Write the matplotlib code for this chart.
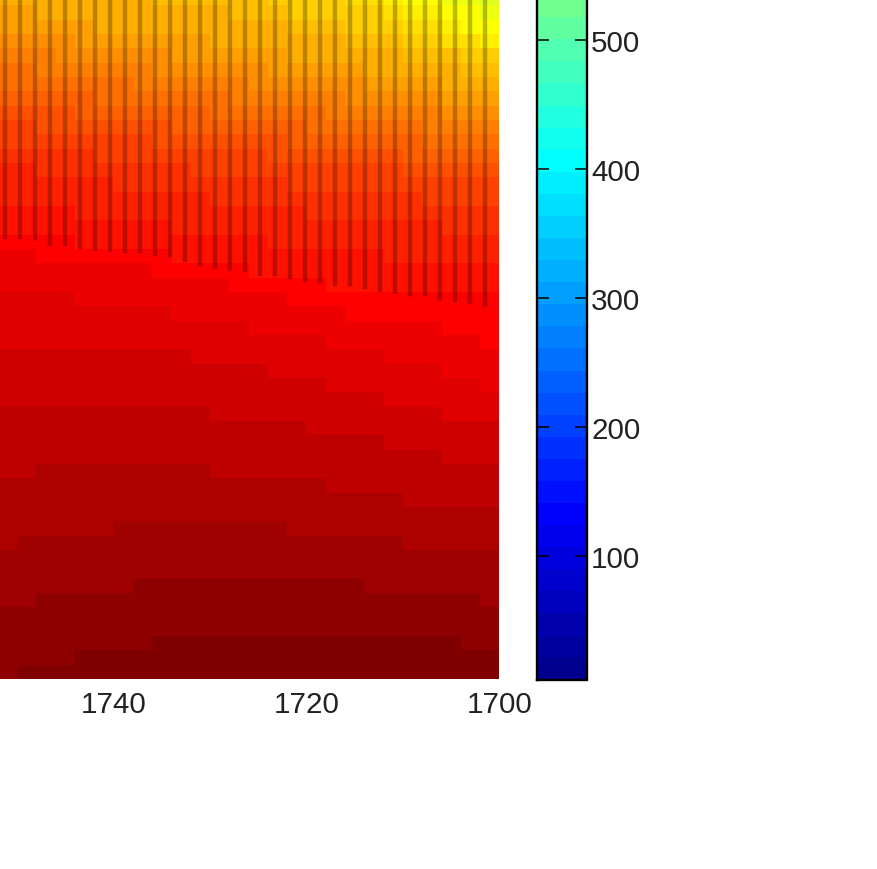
import numpy as np
import matplotlib
matplotlib.use("Agg")
import matplotlib.pyplot as plt
from matplotlib.colors import ListedColormap

plt.rcParams['font.family'] = ['Liberation Sans', 'DejaVu Sans']

# column edges (reversed axis), rows are just counted up from the bottom
x_edges = [1752, 1750, 1748, 1746, 1744, 1742, 1740, 1738, 1736, 1734, 1732, 1730, 1728,
           1726, 1724, 1722, 1720, 1718, 1716, 1714, 1712, 1710, 1708, 1706, 1704, 1702, 1700]
n_rows = 48
clim = [4.4, 1100.0]

# for each colour level: how many rows from the bottom stay at it or above, per column
tops_64 = [0, 1, 1, 1, 2, 2, 2, 2, 3, 3, 3, 3, 3, 3, 3, 3, 3, 3, 3, 3, 3, 3, 3, 3, 2, 2]
tops_63 = [5, 5, 6, 6, 6, 6, 6, 7, 7, 7, 7, 7, 7, 7, 7, 7, 7, 7, 7, 6, 6, 6, 6, 6, 6, 5]
tops_62 = [9, 10, 10, 10, 10, 10, 11, 11, 11, 11, 11, 11, 11, 11, 11, 10, 10, 10, 10, 10, 10, 9, 9, 9, 9, 9]
tops_61 = [14, 14, 15, 15, 15, 15, 15, 15, 15, 15, 15, 14, 14, 14, 14, 14, 14, 13, 13, 13, 13, 12, 12, 12, 12, 12]
tops_60 = [19, 19, 19, 19, 19, 19, 19, 19, 19, 19, 19, 18, 18, 18, 18, 18, 17, 17, 17, 17, 16, 16, 16, 15, 15, 15]
tops_59 = [23, 23, 23, 23, 23, 23, 23, 23, 23, 23, 22, 22, 22, 22, 21, 21, 21, 20, 20, 20, 19, 19, 19, 18, 18, 18]
tops_58 = [27, 27, 27, 27, 26, 26, 26, 26, 26, 25, 25, 25, 25, 24, 24, 24, 24, 23, 23, 23, 22, 22, 22, 21, 21, 20]
tops_57 = [30, 30, 29, 29, 29, 29, 29, 29, 28, 28, 28, 28, 27, 27, 27, 26, 26, 26, 25, 25, 25, 25, 25, 24, 24, 23]
tops_56 = [31, 31, 31, 31, 30, 30, 30, 30, 30, 29, 29, 29, 29, 28, 28, 28, 28, 27, 27, 27, 27, 27, 27, 27, 27, 27]
tops_55 = [33, 33, 33, 33, 32, 32, 32, 32, 32, 31, 31, 31, 31, 31, 30, 30, 30, 30, 30, 30, 29, 29, 29, 29, 29, 29]
tops_54 = [36, 36, 35, 35, 35, 35, 34, 34, 34, 34, 34, 33, 33, 33, 33, 33, 32, 32, 32, 32, 32, 32, 32, 31, 31, 31]
tops_53 = [37, 37, 37, 37, 37, 36, 36, 36, 36, 36, 35, 35, 35, 35, 35, 34, 34, 34, 34, 34, 34, 34, 33, 33, 33, 33]
tops_52 = [39, 39, 38, 38, 38, 38, 38, 38, 37, 37, 37, 37, 37, 37, 36, 36, 36, 36, 36, 36, 36, 35, 35, 35, 35, 35]
tops_51 = [40, 40, 40, 40, 39, 39, 39, 39, 39, 38, 38, 38, 38, 38, 38, 37, 37, 37, 37, 37, 37, 36, 36, 36, 36, 36]
tops_50 = [41, 41, 41, 41, 41, 40, 40, 40, 40, 40, 40, 39, 39, 39, 39, 39, 38, 38, 38, 38, 38, 38, 37, 37, 37, 37]
tops_49 = [43, 43, 42, 42, 42, 42, 42, 41, 41, 41, 41, 41, 40, 40, 40, 40, 40, 39, 39, 39, 39, 39, 38, 38, 38, 38]
tops_48 = [44, 44, 44, 43, 43, 43, 43, 43, 42, 42, 42, 42, 42, 41, 41, 41, 41, 41, 40, 40, 40, 40, 40, 39, 39, 39]
tops_47 = [45, 45, 45, 45, 44, 44, 44, 44, 44, 43, 43, 43, 43, 43, 42, 42, 42, 42, 42, 41, 41, 41, 41, 40, 40, 40]
tops_46 = [47, 47, 46, 46, 46, 45, 45, 45, 45, 45, 45, 44, 44, 44, 44, 43, 43, 43, 43, 42, 42, 42, 42, 41, 41, 41]
tops_45 = [49, 49, 49, 49, 49, 48, 48, 48, 47, 47, 47, 47, 46, 46, 46, 45, 45, 45, 44, 44, 44, 43, 43, 43, 42, 42]
tops_44 = [50, 50, 50, 50, 50, 50, 50, 50, 49, 49, 49, 48, 48, 48, 47, 46, 46, 46, 45, 45, 45, 44, 44, 44, 43, 43]
tops_43 = [49, 49, 49, 49, 49, 49, 49, 49, 49, 49, 49, 49, 49, 49, 49, 49, 48, 48, 47, 47, 46, 45, 45, 44, 44, 44]
tops_42 = [49, 49, 49, 49, 49, 49, 49, 49, 49, 49, 49, 49, 49, 49, 49, 49, 49, 49, 49, 48, 47, 46, 46, 45, 45, 44]
tops_41 = [49, 49, 49, 49, 49, 49, 49, 49, 49, 49, 49, 49, 49, 49, 49, 49, 49, 49, 49, 49, 49, 47, 47, 46, 45, 45]
tops_40 = [49, 49, 49, 49, 49, 49, 49, 49, 49, 49, 49, 49, 49, 49, 49, 49, 49, 49, 49, 49, 49, 49, 48, 47, 47, 46]
tops_39 = [49, 49, 49, 49, 49, 49, 49, 49, 49, 49, 49, 49, 49, 49, 49, 49, 49, 49, 49, 49, 49, 49, 49, 49, 48, 47]

all_tops = [tops_64, tops_63, tops_62, tops_61, tops_60, tops_59, tops_58, tops_57, tops_56, tops_55,
            tops_54, tops_53, tops_52, tops_51, tops_50, tops_49, tops_48, tops_47, tops_46, tops_45,
            tops_44, tops_43, tops_42, tops_41, tops_40, tops_39]

# dark stripes in the upper part: x position and the row where each one stops
stripe_x = [1751.24, 1749.69, 1748.13, 1746.58, 1745.02, 1743.47, 1741.91, 1740.36, 1738.81, 1737.25, 1735.70,
            1734.14, 1732.59, 1731.03, 1729.48, 1727.93, 1726.37, 1724.82, 1723.26, 1721.71, 1720.15, 1718.60,
            1717.05, 1715.49, 1713.94, 1712.38, 1710.83, 1709.27, 1707.72, 1706.17, 1704.61, 1703.06, 1701.50]
stripe_end = [30.7, 30.7, 30.6, 30.2, 30.2, 30.0, 29.9, 29.8, 29.7, 29.7, 29.5, 29.4, 29.1, 28.8, 28.6, 28.5, 28.4,
              28.1, 28.1, 27.9, 27.7, 27.6, 27.4, 27.4, 27.2, 27.0, 26.9, 26.7, 26.7, 26.4, 26.3, 26.2, 26.0]

x_ticks = [1740, 1720, 1700]
cb_ticks = [100, 200, 300, 400, 500]

# matlab style jet, 64 levels
i = np.arange(1, 65)
r = np.clip(np.minimum((i - 24) / 16, (72 - i) / 16), 0, 1)
g = np.clip(np.minimum((i - 8) / 16, (56 - i) / 16), 0, 1)
b = np.clip(np.minimum((i + 8) / 16, (40 - i) / 16), 0, 1)
cmap = ListedColormap(np.column_stack([r, g, b]))

# levels to values
levels = np.full((n_rows, len(x_edges) - 1), 64)
row_idx = np.arange(n_rows)[:, None]
for tops in all_tops:
    levels -= (row_idx >= np.array(tops)).astype(int)
values = clim[0] + (levels - 0.5) * (clim[1] - clim[0]) / 64

W, H = 878, 870
fig = plt.figure(figsize=(W / 100, H / 100), dpi=100)
ax = fig.add_axes([0, 1 - 680 / H, 499.5 / W, 680 / H])

mesh = ax.pcolormesh(x_edges, np.arange(n_rows + 1), values, cmap=cmap, vmin=clim[0], vmax=clim[1],
                     shading='flat', antialiased=False)
stripes = ax.vlines(stripe_x, stripe_end, n_rows, colors='k', alpha=0.26, linewidth=3.2)
stripes.set_snap(False)

ax.set_xlim(1751.76, 1700)
ax.set_ylim(0, 680 / 14.33)
ax.set_yticks([])
ax.set_xticks(x_ticks)
ax.tick_params(axis='x', length=0, labelsize=21.3, pad=7.8, labelcolor='#222222')
for s in ax.spines.values():
    s.set_visible(False)

# colorbar runs off the top of the picture
cb_h = (clim[1] - clim[0]) * 1.29
cax = fig.add_axes([537 / W, 1 - 680.7 / H, 50 / W, cb_h / H])
cb = fig.colorbar(mesh, cax=cax)
cb.set_ticks(cb_ticks)
cb.outline.set_linewidth(1.7)
cax.tick_params(direction='in', length=8.6, width=1.1, left=True, right=True, labelsize=21.3, pad=3,
                labelcolor='#222222')

fig.savefig('out.png', dpi=100)
